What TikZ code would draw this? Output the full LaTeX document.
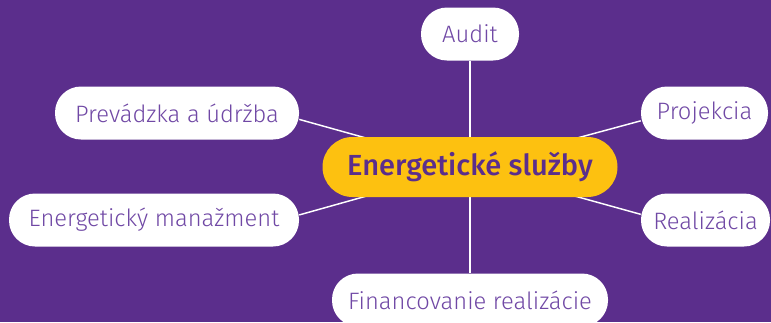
\documentclass[tikz,border=0pt]{standalone}
\usepackage{fontspec}
\setmainfont{Fira Sans}[UprightFont=* Light, BoldFont=* Medium]
\usepackage{xcolor}
\usetikzlibrary{backgrounds}

\definecolor{plum}{RGB}{91,46,140}
\definecolor{lilac}{RGB}{112,72,165}
\definecolor{amber}{RGB}{253,193,16}

\begin{document}
\begin{tikzpicture}[x=0.75pt, y=-0.75pt,
    leaf/.style={fill=white, text=lilac, minimum height=53*0.75pt,
        rounded corners=26*0.75pt, inner sep=0pt, font=\fontsize{17.8}{21}\selectfont},
    hub/.style={fill=amber, text=plum, minimum height=60*0.75pt, minimum width=295*0.75pt,
        rounded corners=30*0.75pt, inner sep=0pt, font=\bfseries\fontsize{21.8}{26}\selectfont},
    link/.style={draw=white, line width=1.1pt}]
    \useasboundingbox (0,0) rectangle (771,322);

    % Center
    \node[hub] (core) at (470,167) {Energetické služby};

    % Topics around it
    \node[leaf, minimum width=98*0.75pt]  (audit) at (470,34)    {Audit};
    \node[leaf, minimum width=244*0.75pt] (prev)  at (177,113)   {Prevádzka a údržba};
    \node[leaf, minimum width=290*0.75pt] (mgmt)  at (154,220)   {Energetický manažment};
    \node[leaf, minimum width=127*0.75pt] (proj)  at (704.5,113) {Projekcia};
    \node[leaf, minimum width=129*0.75pt] (real)  at (705.5,220) {Realizácia};
    \node[leaf, minimum width=276*0.75pt] (fin)   at (470,300)   {Financovanie realizácie};

    % Background and links
    \begin{scope}[on background layer]
        \fill[plum] (0,0) rectangle (771,322);
        \draw[link] (audit) -- (core);
        \draw[link] (core) -- (fin);
        \foreach \n/\a in {prev/-3, mgmt/2, proj/187, real/175}
            \draw[link] (core.center) -- (\n.\a);
    \end{scope}
\end{tikzpicture}
\end{document}
